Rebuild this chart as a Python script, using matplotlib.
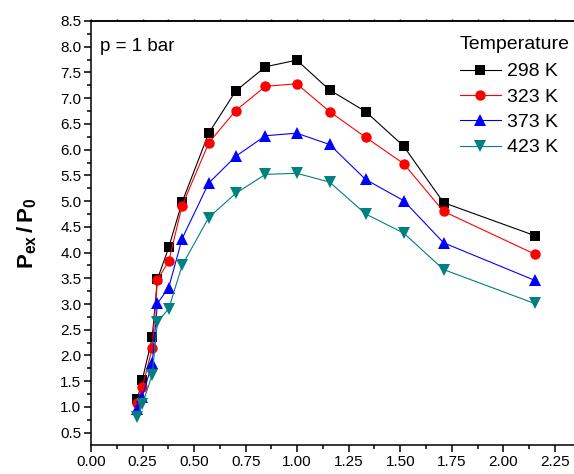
import matplotlib
matplotlib.use("Agg")
import matplotlib.pyplot as plt
from matplotlib.ticker import MultipleLocator, FormatStrFormatter

plt.rcParams['font.family'] = ['Liberation Sans', 'DejaVu Sans']
plt.rcParams['mathtext.fontset'] = 'custom'
plt.rcParams['mathtext.rm'] = 'Liberation Sans'
plt.rcParams['mathtext.bf'] = 'Liberation Sans:bold'

# Data
x = [0.225, 0.249, 0.297, 0.322, 0.377, 0.442, 0.571, 0.702, 0.846, 0.998,
     1.157, 1.332, 1.516, 1.710, 2.152]
y_298 = [1.15, 1.53, 2.35, 3.48, 4.10, 4.98, 6.32, 7.14, 7.61, 7.74,
         7.16, 6.74, 6.07, 4.97, 4.33]
y_323 = [1.07, 1.39, 2.14, 3.47, 3.83, 4.91, 6.13, 6.76, 7.23, 7.28,
         6.74, 6.24, 5.73, 4.80, 3.97]
y_373 = [0.96, 1.20, 1.85, 3.01, 3.32, 4.27, 5.35, 5.87, 6.27, 6.32,
         6.10, 5.42, 5.01, 4.19, 3.46]
y_423 = [0.80, 1.05, 1.63, 2.65, 2.91, 3.75, 4.68, 5.15, 5.52, 5.54,
         5.37, 4.75, 4.38, 3.67, 3.01]
labels = ['298 K', '323 K', '373 K', '423 K']
legend_title = 'Temperature'
annotation = 'p = 1 bar'

series = [y_298, y_323, y_373, y_423]
colors = ['#000000', '#ff0000', '#0000ff', '#008080']
markers = ['s', 'o', '^', 'v']
msizes = [6.5, 7.5, 8.5, 8.5]

fig = plt.figure(figsize=(5.74, 4.74), dpi=100)
ax = fig.add_axes([91/574, 1 - 445/474, (575.5 - 91)/574, (445 - 21)/474])

for ys, c, m, ms, lab in zip(series, colors, markers, msizes, labels):
    ax.plot(x, ys, color=c, marker=m, markersize=ms, linewidth=0.8,
            markeredgewidth=0, label=lab, clip_on=False)

ax.set_xlim(0, 2.35)
ax.set_ylim(0.26, 8.5)
ax.xaxis.set_major_locator(MultipleLocator(0.25))
ax.xaxis.set_minor_locator(MultipleLocator(0.125))
ax.yaxis.set_major_locator(MultipleLocator(0.5))
ax.yaxis.set_minor_locator(MultipleLocator(0.25))
ax.xaxis.set_major_formatter(FormatStrFormatter('%.2f'))
ax.yaxis.set_major_formatter(FormatStrFormatter('%.1f'))

for s in ax.spines.values():
    s.set_linewidth(1.1)

ax.tick_params(axis='both', which='major', direction='out', length=5, width=1.1,
               labelsize=11, pad=2)
ax.tick_params(axis='both', which='minor', direction='out', length=3, width=1.1)

sec = ax.secondary_xaxis('top')
sec.xaxis.set_major_locator(MultipleLocator(0.25))
sec.xaxis.set_minor_locator(MultipleLocator(0.125))
sec.tick_params(which='both', direction='out', length=1.8, width=1.0, labeltop=False)
sec.spines['top'].set_linewidth(1.1)

ax.set_ylabel(r'$\mathbf{P_{ex}\,/\,P_0}$', fontsize=16, labelpad=15)

ax.text(100/574, 1 - 51/474, annotation, transform=fig.transFigure,
        fontsize=13.5, ha='left', va='baseline')

leg = ax.legend(loc='upper left', bbox_to_anchor=(460/574, 1 - 36/474),
                bbox_transform=fig.transFigure, frameon=False, fontsize=14,
                title=legend_title, title_fontsize=14, alignment='left',
                handlelength=2.1, handletextpad=0.3, labelspacing=0.4,
                borderpad=0, borderaxespad=0)
leg._legend_box.sep = 7

fig.savefig('out.png', dpi=100)
